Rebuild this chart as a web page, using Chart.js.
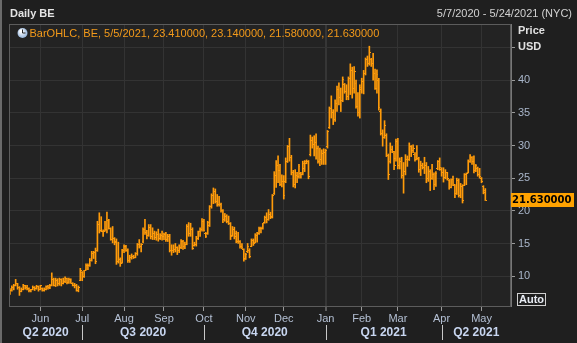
<!DOCTYPE html>
<html>
<head>
<meta charset="utf-8">
<script src="https://cdn.jsdelivr.net/npm/chart.js@4.4.0/dist/chart.umd.min.js"></script>
<style>
  html, body { margin: 0; padding: 0; background: #1f1f1f; }
  #grafica { display: block; }
</style>
</head>
<body>
<canvas id="grafica" width="577" height="343"></canvas>
<script>
// grafica BE diaria (OHLC) estilo terminal

// === DATOS ===
const festivos = ["2020-05-25", "2020-07-03", "2020-09-07", "2020-11-26", "2020-12-25",
                  "2021-01-01", "2021-01-18", "2021-02-15", "2021-04-02"];
const fechaInicio = "2020-05-07";
const fechaFin = "2021-05-24";

const meses = ["Jan", "Feb", "Mar", "Apr", "May", "Jun", "Jul", "Aug", "Sep", "Oct", "Nov", "Dec"];
const trimestres = ["Q2 2020", "Q3 2020", "Q4 2020", "Q1 2021", "Q2 2021"];
const ticksY = [10, 15, 20, 25, 30, 35, 40, 45];

const maximos = [
  8.1, 8.5, 8.75, 9.5, 8.9, 8.4, 8.2, 8.75, 8.6, 8.6, 8.2, 8.0, 8.5, 8.4, 8.6, 8.5,
  8.6, 8.2, 8.2, 8.5, 8.6, 8.75, 10.5, 9.7, 9.7, 9.6, 9.7, 9.6, 9.7, 9.9, 9.7, 9.7, 9.6, 9.0, 8.9, 8.75, 8.5, 11.2,
  10.7, 10.9, 11.9, 11.9, 12.7, 13.8, 13.8, 14.3, 18.4, 19.7, 19.1, 17.1, 18.4, 19.8, 18.7, 17.4, 17.6, 15.9, 15.7, 15.2, 12.8, 14.1,
  14.8, 14.7, 14.2, 13.2, 13.4, 13.2, 13.6, 15.0, 15.6, 15.0, 17.4, 18.7, 17.0, 17.9, 17.9, 17.4, 16.9, 16.8, 17.2, 16.5, 16.9,
  16.6, 16.7, 16.4, 16.4, 14.8, 14.8, 15.0, 14.5, 14.8, 15.6, 15.5, 15.2, 17.9, 18.2, 18.1, 17.4, 15.2, 16.1, 16.9, 17.4, 18.8,
  18.7, 16.7, 18.4, 20.8, 22.6, 23.5, 23.35, 22.5, 22.2, 21.2, 20.2, 19.6, 19.4, 19.2, 18.2, 17.6, 17.5, 16.9, 16.7, 15.45, 15.0, 14.2,
  13.5, 15.0, 14.2, 15.7, 15.7, 16.5, 16.7, 17.5, 17.5, 18.1, 19.2, 19.7, 20.2, 19.8, 22.5, 26.0, 27.7, 28.4, 27.1, 25.5,
  25.4, 28.1, 30.0, 31.1, 28.5, 26.2, 26.3, 25.9, 27.1, 25.9, 27.6, 27.7, 27.8, 27.7, 31.6, 31.3, 31.5, 31.8, 29.9, 29.6, 29.35, 29.5,
  29.4, 32.3, 35.9, 37.6, 35.5, 37.0, 39.1, 39.6, 38.8, 40.5, 39.5, 39.3, 40.5, 42.5, 42.0, 42.1, 40.0, 38.1, 39.3,
  40.3, 41.5, 43.4, 43.7, 45.2, 43.35, 44.1, 41.7, 41.6, 40.3, 35.6, 32.4, 33.8, 31.8, 28.7, 30.4, 29.9, 29.1, 31.0,
  31.1, 28.1, 28.2, 27.4, 28.6, 28.4, 30.4, 30.0, 30.1, 28.9, 30.0, 28.2, 27.6, 27.3, 28.2, 27.4, 26.8, 26.3, 27.1, 25.8, 26.0, 27.7, 28.1,
  26.6, 26.6, 26.3, 25.9, 24.8, 24.9, 25.3, 24.0, 25.0, 24.9, 24.2, 24.0, 25.7, 25.8, 27.8, 28.6, 28.3, 28.4, 27.1, 26.7, 26.5,
  25.1, 23.85, 23.41
];

const minimos = [
  7.2, 7.7, 7.9, 8.5, 8.0, 7.05, 7.6, 7.9, 8.0, 7.9, 7.6, 7.6, 7.9, 7.8, 8.0, 7.7,
  7.9, 7.7, 7.7, 7.9, 8.0, 8.1, 8.5, 8.5, 8.4, 8.5, 8.6, 8.5, 8.8, 9.0, 8.8, 8.9, 8.9, 8.5, 8.2, 7.7, 7.6, 9.3,
  9.3, 9.8, 10.9, 11.0, 11.5, 12.3, 12.7, 11.9, 13.8, 16.6, 16.8, 16.1, 16.9, 16.6, 17.2, 15.5, 15.1, 14.8, 11.8, 12.0, 11.5, 12.0,
  13.6, 13.8, 12.1, 12.1, 12.6, 12.7, 12.8, 13.2, 14.3, 13.7, 15.1, 16.4, 15.7, 16.1, 15.7, 15.6, 15.6, 15.5, 15.35, 15.6, 15.5,
  15.6, 15.3, 15.3, 13.7, 13.2, 13.6, 13.7, 13.3, 13.6, 14.2, 14.1, 14.2, 14.8, 16.1, 16.1, 14.1, 14.6, 14.6, 15.6, 16.1, 16.9,
  16.9, 15.9, 16.4, 17.6, 20.4, 21.1, 21.2, 20.7, 20.7, 19.8, 18.2, 18.4, 18.15, 17.9, 15.6, 16.1, 15.7, 15.1, 15.0, 14.3, 14.2, 12.3,
  12.55, 13.6, 12.8, 14.5, 14.7, 15.1, 15.2, 16.4, 16.6, 17.2, 18.1, 18.15, 18.55, 18.8, 18.9, 22.5, 23.6, 24.3, 23.85, 23.65,
  21.8, 24.3, 27.4, 27.6, 25.5, 23.65, 23.5, 24.3, 25.0, 25.0, 25.5, 26.0, 27.2, 24.9, 28.4, 29.6, 28.4, 27.9, 27.3, 26.9, 27.1, 27.1,
  27.1, 29.6, 32.6, 34.2, 33.2, 33.7, 35.2, 36.2, 35.2, 36.7, 38.0, 37.0, 37.0, 37.8, 37.25, 38.0, 35.7, 34.5, 34.2,
  38.0, 37.9, 40.8, 42.1, 42.3, 42.1, 40.0, 38.6, 38.0, 35.4, 31.6, 29.9, 31.1, 28.3, 24.8, 27.3, 28.9, 26.3, 27.6,
  26.4, 26.4, 25.0, 22.7, 25.5, 26.8, 27.7, 28.3, 28.9, 27.6, 27.8, 25.9, 25.4, 26.4, 25.7, 24.3, 24.5, 23.1, 24.8, 23.25, 23.75, 26.3, 26.2,
  25.3, 24.4, 24.9, 24.7, 23.3, 23.5, 23.85, 22.0, 22.5, 22.1, 22.0, 21.2, 23.85, 24.0, 25.8, 27.4, 27.1, 25.8, 26.0, 25.3, 25.0,
  24.3, 22.6, 21.58
];

const aperturas = [
  7.3, 7.8, 8.2, 8.6, 8.8, 8.3, 7.7, 8.0, 8.5, 8.2, 8.1, 7.8, 8.0, 8.3, 8.1, 8.4,
  8.0, 8.1, 7.8, 8.0, 8.4, 8.2, 8.6, 9.5, 8.6, 9.4, 8.8, 9.5, 8.9, 9.2, 9.6, 9.0, 9.5, 8.9, 8.6, 8.5, 7.8, 9.4,
  10.5, 9.9, 11.0, 11.7, 11.6, 12.4, 13.5, 13.6, 14.0, 17.9, 17.0, 16.9, 17.0, 17.2, 18.5, 17.3, 15.6, 15.7, 15.3, 12.2, 12.6, 12.1,
  13.9, 14.5, 14.0, 12.4, 12.8, 13.0, 12.9, 13.4, 14.8, 14.5, 15.3, 17.2, 16.7, 16.2, 17.5, 16.0, 16.6, 15.9, 16.4, 15.8, 16.2,
  16.0, 16.4, 15.6, 16.1, 14.0, 13.9, 14.1, 14.4, 13.9, 14.4, 15.3, 14.5, 14.9, 17.6, 16.5, 17.2, 14.7, 14.9, 15.8, 16.8, 17.1,
  18.3, 16.6, 16.5, 17.8, 20.6, 22.4, 22.9, 21.5, 21.0, 21.0, 20.0, 18.6, 19.2, 18.3, 18.0, 16.2, 17.1, 16.6, 15.3, 15.3, 14.5, 14.1,
  12.7, 13.7, 14.0, 14.6, 15.5, 15.2, 16.2, 16.5, 17.3, 17.3, 18.2, 19.0, 18.7, 19.5, 19.0, 22.6, 25.4, 27.0, 26.1, 24.0,
  24.5, 24.5, 27.6, 29.8, 28.2, 25.8, 24.0, 25.4, 25.3, 25.7, 25.6, 26.5, 27.3, 27.5, 28.6, 30.8, 30.1, 30.4, 29.5, 27.6, 27.8, 28.7,
  28.9, 29.8, 32.8, 35.6, 35.0, 34.0, 36.4, 38.5, 37.4, 36.9, 39.3, 38.2, 37.5, 40.2, 41.5, 38.7, 39.5, 35.9, 35.0,
  38.6, 39.8, 41.0, 43.2, 42.6, 43.2, 42.5, 41.0, 38.7, 40.0, 35.2, 31.8, 31.3, 31.5, 28.5, 27.6, 29.4, 28.8, 28.0,
  30.6, 27.0, 27.6, 25.4, 26.0, 27.9, 27.9, 29.8, 29.2, 28.6, 27.9, 28.0, 26.3, 26.9, 26.6, 27.0, 24.9, 26.0, 24.9, 25.5, 24.0, 26.5, 27.5,
  26.4, 25.8, 25.1, 25.8, 24.6, 23.6, 24.8, 23.9, 22.6, 24.7, 22.3, 23.8, 23.9, 25.5, 25.9, 27.6, 28.1, 27.5, 26.2, 26.5, 25.6,
  24.9, 23.7, 23.14
];

const cierres = [
  7.8, 8.2, 8.6, 8.8, 8.2, 7.7, 8.0, 8.5, 8.2, 8.1, 7.8, 7.9, 8.3, 8.1, 8.4, 7.9,
  8.5, 7.8, 8.0, 8.4, 8.2, 8.6, 9.5, 8.6, 9.4, 8.8, 9.5, 8.9, 9.2, 9.6, 9.0, 9.5, 8.9, 8.6, 8.5, 7.8, 8.3, 10.9,
  9.9, 10.8, 11.7, 11.6, 12.4, 13.5, 13.6, 12.2, 17.9, 17.0, 16.9, 16.8, 17.2, 18.5, 17.3, 15.6, 15.7, 15.2, 12.2, 12.6, 12.0, 13.9,
  14.5, 14.0, 12.4, 12.8, 13.0, 12.9, 13.4, 14.8, 14.5, 14.8, 17.2, 16.7, 16.2, 17.5, 16.0, 16.6, 15.9, 16.4, 15.8, 16.2, 16.1,
  16.4, 15.6, 16.1, 14.0, 13.9, 14.1, 14.4, 13.9, 14.4, 15.3, 14.5, 14.9, 17.6, 16.5, 17.2, 14.3, 14.9, 15.8, 16.8, 17.1, 18.3,
  17.0, 16.1, 18.2, 20.6, 22.4, 22.9, 21.5, 21.0, 21.0, 20.0, 18.6, 19.2, 18.3, 18.0, 16.0, 17.1, 16.0, 15.3, 15.3, 14.5, 14.4, 12.6,
  13.3, 14.6, 13.0, 15.5, 15.0, 16.2, 16.5, 17.3, 17.3, 18.0, 19.0, 18.7, 19.5, 19.1, 22.3, 25.4, 27.0, 26.1, 24.0, 24.5,
  22.4, 27.6, 29.8, 28.2, 25.8, 24.0, 25.4, 25.3, 26.8, 25.6, 27.3, 27.5, 27.5, 25.2, 30.8, 30.1, 30.4, 29.5, 27.6, 27.8, 28.7, 28.9,
  29.2, 32.1, 35.6, 35.0, 34.0, 36.4, 38.5, 37.4, 36.9, 40.1, 38.2, 37.5, 40.2, 41.5, 38.7, 41.4, 35.9, 35.0, 38.9,
  39.8, 41.0, 43.2, 42.6, 44.2, 42.5, 41.0, 38.7, 40.8, 35.8, 31.8, 31.3, 33.1, 28.5, 25.5, 29.4, 29.1, 27.0, 30.6,
  27.0, 27.6, 25.4, 26.0, 27.9, 27.9, 29.8, 29.2, 29.6, 27.9, 28.0, 26.3, 26.9, 26.6, 27.0, 24.9, 26.0, 24.9, 25.5, 24.0, 25.7, 27.5, 26.6,
  25.8, 25.1, 25.8, 24.9, 23.6, 24.8, 24.0, 22.6, 24.7, 22.3, 23.8, 21.6, 25.5, 25.7, 27.6, 28.1, 27.5, 26.2, 26.9, 25.6, 25.2,
  24.5, 22.8, 21.63
];

// === FECHAS (días hábiles) ===
function diasHabiles(desde, hasta) {
  const lista = [];
  const d = new Date(desde + "T12:00:00Z");
  const fin = new Date(hasta + "T12:00:00Z");
  while (d <= fin) {
    const dia = d.getUTCDay();
    const iso = d.toISOString().slice(0, 10);
    if (dia !== 0 && dia !== 6 && !festivos.includes(iso)) lista.push(iso);
    d.setUTCDate(d.getUTCDate() + 1);
  }
  return lista;
}

const fechas = diasHabiles(fechaInicio, fechaFin);
const mesDe = i => Number(fechas[i].slice(5, 7)) - 1;
const fmtFecha = iso => `${Number(iso.slice(5, 7))}/${Number(iso.slice(8, 10))}/${iso.slice(0, 4)}`;

// índices donde empieza cada mes
const iniciosMes = fechas.map((_, i) => i).filter(i => i > 0 && mesDe(i) !== mesDe(i - 1));
const iniciosTrimestre = iniciosMes.filter(i => mesDe(i) % 3 === 0);
const iniciosAnio = iniciosMes.filter(i => mesDe(i) === 0);

const NARANJA = "#ff9b0a";
const n = cierres.length - 1;

// marcas de apertura (izquierda) y cierre (derecha)
function marca(lado) {
  const c = document.createElement("canvas");
  c.width = 3; c.height = 1;
  const g = c.getContext("2d");
  g.fillStyle = NARANJA;
  g.fillRect(lado === "izq" ? 0 : 2, 0, 1, 1);
  return c;
}

const barras = maximos.map((h, i) => ({ x: i, y: [minimos[i], h] }));
const puntosApertura = aperturas.map((v, i) => ({ x: i, y: v }));
const puntosCierre = cierres.map((v, i) => ({ x: i, y: v }));

// === DECORADO (títulos, leyenda, etiquetas) ===
const decorado = {
  id: "decorado",
  beforeDraw(chart) {
    const { ctx, chartArea: a } = chart;
    ctx.save();
    ctx.fillStyle = "#1f1f1f";
    ctx.fillRect(0, 0, chart.width, chart.height);
    ctx.fillStyle = "#232323";
    ctx.fillRect(a.left, a.top, a.right - a.left, a.bottom - a.top);
    ctx.restore();
  },
  afterDraw(chart) {
    const { ctx, chartArea: a, scales } = chart;
    const x = scales.x, y = scales.y;
    ctx.save();

    // marco del gráfico
    ctx.strokeStyle = "#5c5c5c";
    ctx.lineWidth = 1;
    ctx.strokeRect(a.left + 0.5, a.top + 0.5, a.right - a.left - 1, a.bottom - a.top);
    ctx.fillStyle = "#6a6a6a";
    ctx.fillRect(0, 0, 2, chart.height);

    // cabecera
    ctx.textBaseline = "middle";
    ctx.textAlign = "left";
    ctx.font = "bold 11px 'Liberation Sans'";
    ctx.fillStyle = "#e4e4e4";
    ctx.fillText("Daily BE", 10, 13.5);
    ctx.textAlign = "right";
    ctx.font = "11px 'Liberation Sans'";
    ctx.fillStyle = "#d2d2d2";
    ctx.fillText(`${fmtFecha(fechas[0])} - ${fmtFecha(fechas[fechas.length - 1])} (NYC)`, 572, 13.5);

    // leyenda con icono de reloj
    const grad = ctx.createRadialGradient(21, 31, 1, 22.5, 33, 5.5);
    grad.addColorStop(0, "#ffffff");
    grad.addColorStop(1, "#8fb0d8");
    ctx.beginPath();
    ctx.arc(22.5, 33, 5, 0, Math.PI * 2);
    ctx.fillStyle = grad;
    ctx.fill();
    ctx.strokeStyle = "#2a2a2a";
    ctx.beginPath();
    ctx.moveTo(22.5, 33); ctx.lineTo(22.5, 29.5);
    ctx.moveTo(22.5, 33); ctx.lineTo(25.5, 33);
    ctx.stroke();

    const f = v => v.toFixed(6);
    ctx.textAlign = "left";
    ctx.fillStyle = "#f39a1a";
    ctx.font = "11px 'Liberation Sans'";
    ctx.fillText(`BarOHLC, BE, ${fmtFecha(fechas[n])}, ${f(maximos[n])}, ${f(aperturas[n])}, ${f(minimos[n])}, ${f(cierres[n])}`, 29.5, 33.5);

    // títulos del eje derecho
    ctx.font = "bold 11px 'Liberation Sans'";
    ctx.fillStyle = "#e0e0e0";
    ctx.fillText("Price", 518, 31);
    ctx.fillText("USD", 518, 47);

    // último precio
    const yy = y.getPixelForValue(cierres[n]);
    ctx.fillStyle = "#ffa200";
    ctx.fillRect(a.right, Math.round(yy) - 7, 63, 14);
    ctx.fillStyle = "#000000";
    ctx.font = "bold 10px 'DejaVu Sans'";
    ctx.fillText(f(cierres[n]), a.right + 1, Math.round(yy) + 0.5);

    // botón Auto
    ctx.strokeStyle = "#d0d0d0";
    ctx.strokeRect(517.5, 293.5, 28, 12);
    ctx.fillStyle = "#e8ecf4";
    ctx.font = "bold 11px 'Liberation Sans'";
    ctx.textAlign = "center";
    ctx.fillText("Auto", 531.5, 300);

    // trimestres
    const limites = [a.left, ...iniciosTrimestre.map(i => x.getPixelForValue(i)), a.right];
    ctx.strokeStyle = "#c8c8c8";
    iniciosTrimestre.forEach(i => {
      const px = Math.round(x.getPixelForValue(i)) + 0.5;
      ctx.beginPath();
      ctx.moveTo(px, 325);
      ctx.lineTo(px, 340);
      ctx.stroke();
    });
    ctx.font = "bold 12px 'Liberation Sans'";
    ctx.fillStyle = "#c8d6f0";
    trimestres.forEach((t, k) => {
      ctx.fillText(t, (limites[k] + limites[k + 1]) / 2, 333);
    });

    ctx.restore();
  }
};

Chart.defaults.font.family = "'Liberation Sans', Arial, sans-serif";
Chart.defaults.font.size = 11;

const ctx = document.getElementById("grafica").getContext("2d");

new Chart(ctx, {
  type: "bar",
  data: {
    datasets: [
      {
        type: "bar",
        data: barras,
        backgroundColor: NARANJA,
        borderWidth: 0,
        barThickness: 1,
        order: 2
      },
      {
        type: "line",
        data: puntosApertura,
        showLine: false,
        pointStyle: marca("izq"),
        pointRadius: 2,
        order: 1
      },
      {
        type: "line",
        data: puntosCierre,
        showLine: false,
        pointStyle: marca("der"),
        pointRadius: 2,
        order: 1
      }
    ]
  },
  options: {
    responsive: false,
    animation: false,
    events: [],
    layout: { padding: { left: 9, top: 24, right: 0, bottom: 0 } },
    plugins: {
      legend: { display: false },
      tooltip: { enabled: false }
    },
    scales: {
      x: {
        type: "linear",
        min: -0.5,
        max: fechas.length - 0.5,
        offset: false,
        afterBuildTicks: s => { s.ticks = iniciosMes.map(i => ({ value: i })); },
        afterFit: s => { s.height = 37; },
        grid: {
          offset: false,
          color: c => (c.tick && iniciosAnio.includes(c.tick.value)) ? "#363636" : "#333333",
          lineWidth: c => (c.tick && iniciosAnio.includes(c.tick.value)) ? 2 : 1,
          tickLength: 5,
          tickWidth: 1,
          tickColor: "#9a9a9a"
        },
        border: { color: "#5c5c5c" },
        ticks: {
          autoSkip: false,
          maxRotation: 0,
          padding: 1,
          color: "#b4c0d4",
          callback: v => meses[mesDe(v)]
        }
      },
      y: {
        position: "right",
        min: 5.43,
        max: 48.6,
        beginAtZero: false,
        afterBuildTicks: s => { s.ticks = ticksY.map(v => ({ value: v })); },
        afterFit: s => { s.width = 66; },
        grid: {
          color: "#333333",
          tickLength: 4,
          tickColor: "#9a9a9a"
        },
        border: { color: "#777777" },
        ticks: {
          padding: 3,
          color: "#a9b6ca",
          callback: v => v === 45 ? "" : v
        }
      }
    }
  },
  plugins: [decorado]
});
</script>
</body>
</html>
